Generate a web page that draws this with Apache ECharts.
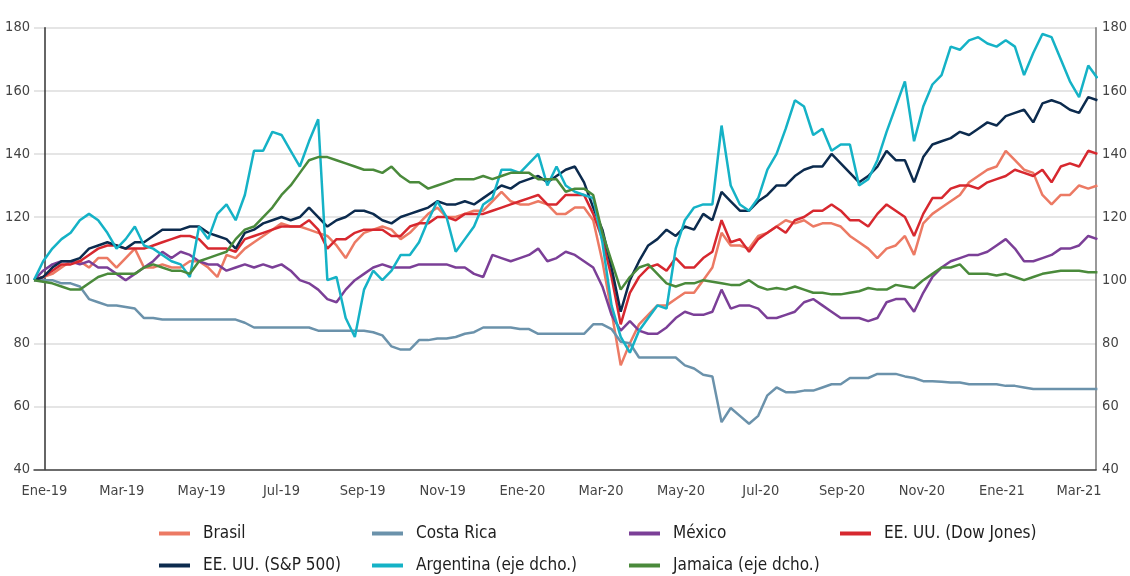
<!DOCTYPE html>
<html>
<head>
<meta charset="utf-8">
<script src="https://cdn.jsdelivr.net/npm/echarts@6/dist/echarts.min.js"></script>
<style>
  html, body { margin: 0; padding: 0; background: #fff; }
  #chart { width: 1130px; height: 576px; }
</style>
</head>
<body>
<div id="chart"></div>
<script>
// weekly observations, first one on 2018-12-24
const startDate = '2018-12-24';
const stepDays = 7;

// x axis labels and the month they sit on
const tickDates = ['2019-01-01', '2019-03-01', '2019-05-01', '2019-07-01', '2019-09-01', '2019-11-01',
  '2020-01-01', '2020-03-01', '2020-05-01', '2020-07-01', '2020-09-01', '2020-11-01', '2021-01-01', '2021-03-01'];
const tickLabels = ['Ene-19', 'Mar-19', 'May-19', 'Jul-19', 'Sep-19', 'Nov-19',
  'Ene-20', 'Mar-20', 'May-20', 'Jul-20', 'Sep-20', 'Nov-20', 'Ene-21', 'Mar-21'];

const brasil = [100, 101, 102, 104, 106, 106, 104, 107, 107, 104, 107, 110, 104, 104, 105,
  104, 104, 106, 106, 104, 101, 108, 107, 110, 112, 114, 116, 118, 117, 117,
  116, 115, 114, 111, 107, 112, 115, 116, 117, 116, 113, 115, 118, 121, 123,
  120, 120, 121, 122, 122, 125, 128, 125, 124, 124, 125, 124, 121, 121,
  123, 123, 119, 106, 90, 73, 80, 86, 89, 92, 92, 94, 96, 96, 100,
  104, 115, 111, 111, 110, 114, 115, 117, 119, 118, 119, 117, 118, 118, 117,
  114, 112, 110, 107, 110, 111, 114, 108, 118, 121, 123, 125, 127, 131,
  133, 135, 136, 141, 138, 135, 134, 127, 124, 127, 127, 130, 129, 130];

const costaRica = [100, 100, 100, 99, 99, 98, 94, 93, 92, 92, 91.5, 91, 88, 88, 87.5,
  87.5, 87.5, 87.5, 87.5, 87.5, 87.5, 87.5, 87.5, 86.5, 85, 85, 85, 85, 85, 85,
  85, 84, 84, 84, 84, 84, 84, 83.5, 82.5, 79, 78, 78, 81, 81, 81.5,
  81.5, 82, 83, 83.5, 85, 85, 85, 85, 84.5, 84.5, 83, 83, 83, 83,
  83, 83, 86, 86, 84.5, 80.5, 80, 75.5, 75.5, 75.5, 75.5, 75.5, 73, 72, 70,
  69.5, 55, 59.5, 57, 54.5, 57, 63.5, 66, 64.5, 64.5, 65, 65, 66, 67, 67,
  69, 69, 69, 70.3, 70.3, 70.3, 69.5, 69, 68, 68, 67.8, 67.6, 67.6, 67,
  67, 67, 67, 66.5, 66.5, 66, 65.5, 65.5, 65.5, 65.5, 65.5, 65.5, 65.5, 65.5];

const mexico = [100, 103, 105, 106, 106, 105, 106, 104, 104, 102, 100, 102, 104, 106, 109,
  107, 109, 108, 106, 105, 105, 103, 104, 105, 104, 105, 104, 105, 103, 100,
  99, 97, 94, 93, 97, 100, 102, 104, 105, 104, 104, 104, 105, 105, 105,
  105, 104, 104, 102, 101, 108, 107, 106, 107, 108, 110, 106, 107, 109,
  108, 106, 104, 98, 89, 84, 87, 84, 83, 83, 85, 88, 90, 89, 89,
  90, 97, 91, 92, 92, 91, 88, 88, 89, 90, 93, 94, 92, 90, 88,
  88, 88, 87, 88, 93, 94, 94, 90, 96, 101, 104, 106, 107, 108,
  108, 109, 111, 113, 110, 106, 106, 107, 108, 110, 110, 111, 114, 113];

const dowJones = [100, 101, 103, 105, 105, 106, 108, 110, 111, 111, 110, 110, 110, 111, 112,
  113, 114, 114, 113, 110, 110, 110, 109, 113, 114, 115, 116, 117, 117, 117,
  119, 116, 110, 113, 113, 115, 116, 116, 116, 114, 114, 117, 118, 118, 120,
  120, 119, 121, 121, 121, 122, 123, 124, 125, 126, 127, 124, 124, 127,
  127, 127, 121, 113, 101, 86, 96, 101, 104, 105, 103, 107, 104, 104, 107,
  109, 119, 112, 113, 109, 113, 115, 117, 115, 119, 120, 122, 122, 124, 122,
  119, 119, 117, 121, 124, 122, 120, 114, 121, 126, 126, 129, 130, 130,
  129, 131, 132, 133, 135, 134, 133, 135, 131, 136, 137, 136, 141, 140];

const sp500 = [100, 101, 104, 106, 106, 107, 110, 111, 112, 111, 110, 112, 112, 114, 116,
  116, 116, 117, 117, 115, 114, 113, 110, 115, 116, 118, 119, 120, 119, 120,
  123, 120, 117, 119, 120, 122, 122, 121, 119, 118, 120, 121, 122, 123, 125,
  124, 124, 125, 124, 126, 128, 130, 129, 131, 132, 133, 131, 133, 135,
  136, 131, 123, 116, 104, 90, 100, 106, 111, 113, 116, 114, 117, 116, 121,
  119, 128, 125, 122, 122, 125, 127, 130, 130, 133, 135, 136, 136, 140, 137,
  134, 131, 133, 136, 141, 138, 138, 131, 139, 143, 144, 145, 147, 146,
  148, 150, 149, 152, 153, 154, 150, 156, 157, 156, 154, 153, 158, 157];

const argentina = [100, 106, 110, 113, 115, 119, 121, 119, 115, 110, 113, 117, 111, 110, 108,
  106, 105, 101, 117, 113, 121, 124, 119, 127, 141, 141, 147, 146, 141, 136,
  144, 151, 100, 101, 88, 82, 97, 103, 100, 103, 108, 108, 112, 119, 125,
  120, 109, 113, 117, 124, 126, 135, 135, 134, 137, 140, 130, 136, 130,
  128, 127, 126, 112, 92, 82, 77, 84, 88, 92, 91, 110, 119, 123, 124,
  124, 149, 130, 124, 122, 126, 135, 140, 148, 157, 155, 146, 148, 141, 143,
  143, 130, 132, 138, 147, 155, 163, 144, 155, 162, 165, 174, 173, 176,
  177, 175, 174, 176, 174, 165, 172, 178, 177, 170, 163, 158, 168, 164];

const jamaica = [100, 99.5, 99, 98, 97, 97, 99, 101, 102, 102, 102, 102, 104, 105, 104,
  103, 103, 102, 106, 107, 108, 109, 113, 116, 117, 120, 123, 127, 130, 134,
  138, 139, 139, 138, 137, 136, 135, 135, 134, 136, 133, 131, 131, 129, 130,
  131, 132, 132, 132, 133, 132, 133, 134, 134, 134, 132, 132, 132, 128,
  129, 129, 127, 115, 106, 97, 101, 104, 105, 102, 99, 98, 99, 99, 100,
  99.5, 99, 98.5, 98.5, 100, 98, 97, 97.5, 97, 98, 97, 96, 96, 95.5, 95.5,
  96, 96.5, 97.5, 97, 97, 98.5, 98, 97.5, 100, 102, 104, 104, 105, 102,
  102, 102, 101.5, 102, 101, 100, 101, 102, 102.5, 103, 103, 103, 102.5, 102.5];

const font = '"DejaVu Sans Condensed", "Liberation Sans", sans-serif';
const dayMs = 86400000;
const base = Date.UTC(2019, 0, 1);
function dayOf (s) {
  const p = s.split('-');
  return Math.round((Date.UTC(+p[0], +p[1] - 1, +p[2]) - base) / dayMs);
}
const firstDay = dayOf(startDate);
function pairs (values) {
  return values.map((v, i) => [firstDay + i * stepDays, v]);
}
const tickDays = tickDates.map(dayOf);

const chart = echarts.init(document.getElementById('chart'));

function line (name, color, values, axis) {
  return {
    name: name,
    type: 'line',
    yAxisIndex: axis,
    data: pairs(values),
    showSymbol: false,
    symbol: 'none',
    lineStyle: { color: color, width: 2.5 },
    itemStyle: { color: color },
    emphasis: { disabled: true }
  };
}

const legendBase = {
  orient: 'vertical',
  top: 525,
  padding: 0,
  icon: 'rect',
  itemWidth: 31,
  itemHeight: 4,
  itemGap: 15,
  textStyle: { fontFamily: font, fontSize: 17, color: '#1e1e1e', padding: [0, 0, 0, 8] }
};

chart.setOption({
  animation: false,
  grid: { left: 34, right: 29, top: 27.7, bottom: 106.5, containLabel: false },
  legend: [
    Object.assign({}, legendBase, { left: 159, data: ['Brasil', 'EE. UU. (S&P 500)'] }),
    Object.assign({}, legendBase, { left: 372, data: ['Costa Rica', 'Argentina (eje dcho.)'] }),
    Object.assign({}, legendBase, { left: 629, data: ['México', 'Jamaica (eje dcho.)'] }),
    Object.assign({}, legendBase, { left: 840, data: ['EE. UU. (Dow Jones)'] })
  ],
  xAxis: {
    type: 'value',
    min: -8,
    max: 803,
    axisLine: { show: true, lineStyle: { color: '#444', width: 1.5 } },
    axisTick: { show: false },
    splitLine: { show: false },
    axisLabel: {
      customValues: tickDays,
      margin: 14,
      fontFamily: font,
      fontSize: 14.5,
      color: '#444',
      formatter: function (v) {
        const k = tickDays.indexOf(v);
        return k >= 0 ? tickLabels[k] : '';
      }
    }
  },
  yAxis: [
    {
      type: 'value',
      min: 40,
      max: 180,
      interval: 20,
      axisLine: { show: true, lineStyle: { color: '#333', width: 1.5 } },
      axisTick: { show: false },
      splitLine: { show: true, lineStyle: { color: '#dcdcdc', width: 1.5 } },
      axisLabel: { margin: 4, fontFamily: font, fontSize: 14.5, color: '#444' }
    },
    {
      type: 'value',
      position: 'right',
      min: 40,
      max: 180,
      interval: 20,
      axisLine: { show: true, lineStyle: { color: '#777', width: 1.5 } },
      axisTick: { show: false },
      splitLine: { show: false },
      axisLabel: { margin: 6, fontFamily: font, fontSize: 14.5, color: '#444' }
    }
  ],
  series: [
    line('Brasil', '#ec7a64', brasil, 0),
    line('Costa Rica', '#6b92ab', costaRica, 0),
    line('México', '#7b3f97', mexico, 0),
    line('EE. UU. (Dow Jones)', '#d7282f', dowJones, 0),
    line('EE. UU. (S&P 500)', '#0c2b4e', sp500, 0),
    line('Argentina (eje dcho.)', '#15b2c6', argentina, 1),
    line('Jamaica (eje dcho.)', '#4a8a3b', jamaica, 1)
  ]
});
window.addEventListener('resize', () => { chart.resize(); });
</script>
</body>
</html>
